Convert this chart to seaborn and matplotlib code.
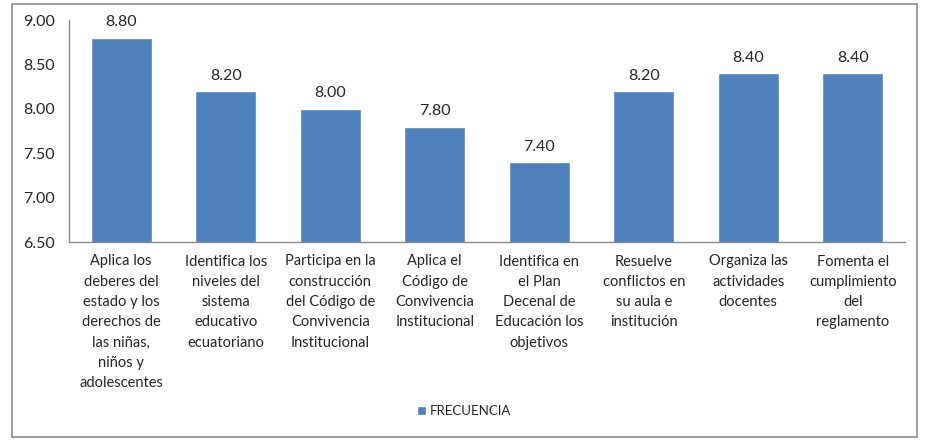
import matplotlib
matplotlib.use("Agg")
import matplotlib.pyplot as plt
import seaborn as sns
import pandas as pd
from matplotlib.patches import Rectangle

categories = [
    "Aplica los\ndeberes del\nestado y los\nderechos de\nlas niñas,\nniños y\nadolescentes",
    "Identifica los\nniveles del\nsistema\neducativo\necuatoriano",
    "Participa en la\nconstrucción\ndel Código de\nConvivencia\nInstitucional",
    "Aplica el\nCódigo de\nConvivencia\nInstitucional",
    "Identifica en\nel Plan\nDecenal de\nEducación los\nobjetivos",
    "Resuelve\nconflictos en\nsu aula e\ninstitución",
    "Organiza las\nactividades\ndocentes",
    "Fomenta el\ncumplimiento\ndel\nreglamento",
]
values = [8.80, 8.20, 8.00, 7.80, 7.40, 8.20, 8.40, 8.40]
series_name = "FRECUENCIA"
yticks = [6.50, 7.00, 7.50, 8.00, 8.50, 9.00]

sns.set_theme(style="white")
plt.rcParams['font.family'] = ['Lato', 'DejaVu Sans']

df = pd.DataFrame({"cat": categories, "val": values, "serie": series_name})

fig = plt.figure(figsize=(9.28, 4.42), dpi=100)
fig.patches.append(Rectangle((12/928, 1-437/442), (917-12)/928, (437-4)/442,
                             transform=fig.transFigure, fill=False,
                             edgecolor="#8c8c8c", linewidth=1.2))
ax = fig.add_axes([69/928, 1-242/442, (905-69)/928, (242-20)/442])

sns.barplot(data=df, x="cat", y="val", hue="serie", palette=["#4F81BD"],
            width=0.58, ax=ax, legend=True, saturation=1)

ax.set_ylim(6.5, 9.0)
ax.set_yticks(yticks)
ax.set_yticklabels([f"{v:.2f}" for v in yticks], fontsize=11.5, color="#262626")
ax.tick_params(axis="y", length=0, pad=10)
ax.tick_params(axis="x", length=0, pad=9)
ax.set_xticks(range(len(categories)))
ax.set_xticklabels(categories, fontsize=10.5, color="#262626", linespacing=1.57)
ax.set_xlabel("")
ax.set_ylabel("")
for s in ["top", "right"]:
    ax.spines[s].set_visible(False)
for s in ["left", "bottom"]:
    ax.spines[s].set_color("#8c8c8c")
    ax.spines[s].set_linewidth(1.0)

for cont in ax.containers:
    ax.bar_label(cont, labels=[f"{v:.2f}" for v in values], padding=6,
                 fontsize=11.5, color="#262626")

leg = ax.legend(loc="center", bbox_to_anchor=(0.5, 1 - 411/442), bbox_transform=fig.transFigure,
                frameon=False, fontsize=9.5, handlelength=0.7, handleheight=0.7,
                handletextpad=0.3)
for t in leg.get_texts():
    t.set_color("#262626")

fig.savefig("out.png", dpi=100)
